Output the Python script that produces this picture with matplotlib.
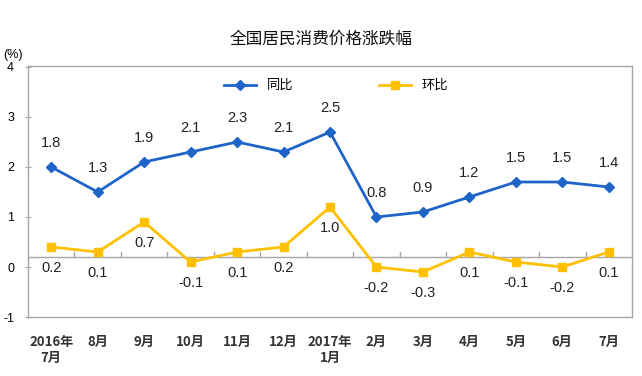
import matplotlib
matplotlib.use("Agg")
import matplotlib.pyplot as plt
import numpy as np

plt.rcParams['font.family'] = ['Liberation Sans', 'Noto Sans CJK SC', 'DejaVu Sans']

months = ["2016年\n7月", "8月", "9月", "10月", "11月", "12月", "2017年\n1月",
          "2月", "3月", "4月", "5月", "6月", "7月"]
yoy = [1.8, 1.3, 1.9, 2.1, 2.3, 2.1, 2.5, 0.8, 0.9, 1.2, 1.5, 1.5, 1.4]
mom = [0.2, 0.1, 0.7, -0.1, 0.1, 0.2, 1.0, -0.2, -0.3, 0.1, -0.1, -0.2, 0.1]
ytick_labels = ["-1", "0", "1", "2", "3", "4"]

blue = "#1F64C8"
yellow = "#FFC000"
gray = "#A6A6A6"

fig = plt.figure(figsize=(6.42, 3.76), dpi=100)
ax = fig.add_axes([0.0436, 0.1569, 0.9408, 0.6676])
x = np.arange(len(months))

ax.plot(x, yoy, color=blue, lw=2, marker='D', ms=5, label='同比', zorder=3)
ax.plot(x, mom, color=yellow, lw=2, marker='s', ms=5.5, label='环比', zorder=3)

for xi, v in zip(x, yoy):
    ax.annotate(f"{v:.1f}", (xi, v), xytext=(0, 12), textcoords='offset points',
                ha='center', va='bottom', fontsize=10.5, color='#222222')
for xi, v in zip(x, mom):
    ax.annotate(f"{v:.1f}", (xi, v), xytext=(0, -10), textcoords='offset points',
                ha='center', va='top', fontsize=10.5, color='#222222')

ax.set_xlim(-0.5, len(months) - 0.5)
ax.set_ylim(-1.2, 3.82)

# zero line with upward category ticks
ax.axhline(0, color=gray, lw=1, zorder=1)
for b in np.arange(0.5, len(months) - 0.5, 1):
    ax.plot([b, b], [0, 0.1], color=gray, lw=1, zorder=1)

# y tick labels (offset as in the reference)
ax.set_yticks([-1.2, -0.2, 0.8, 1.8, 2.8, 3.8])
ax.set_yticklabels(ytick_labels, fontsize=9)
ax.tick_params(axis='y', direction='inout', length=4, color=gray, pad=8)

ax.set_xticks(x)
ax.set_xticklabels(months, fontsize=9.5, fontweight='bold', color='#333333',
                   family=['Noto Sans CJK SC', 'DejaVu Sans'], linespacing=1.15)
ax.tick_params(axis='x', length=0, pad=13)

for s in ax.spines.values():
    s.set_color(gray)
    s.set_linewidth(1)

leg = ax.legend(loc='upper center', bbox_to_anchor=(0.51, 0.995), ncol=2, frameon=False,
                handlelength=2.4, columnspacing=6.5,
                prop={'family': ['Noto Sans CJK SC', 'DejaVu Sans'], 'size': 9.5})

fig.text(0.5, 0.895, "全国居民消费价格涨跌幅", ha='center', va='center', fontsize=12,
         family=['Noto Sans CJK SC', 'DejaVu Sans'], color='#111111')
fig.text(0.005, 0.855, "(%)", ha='left', va='center', fontsize=9)

fig.savefig("out.png", dpi=100)
